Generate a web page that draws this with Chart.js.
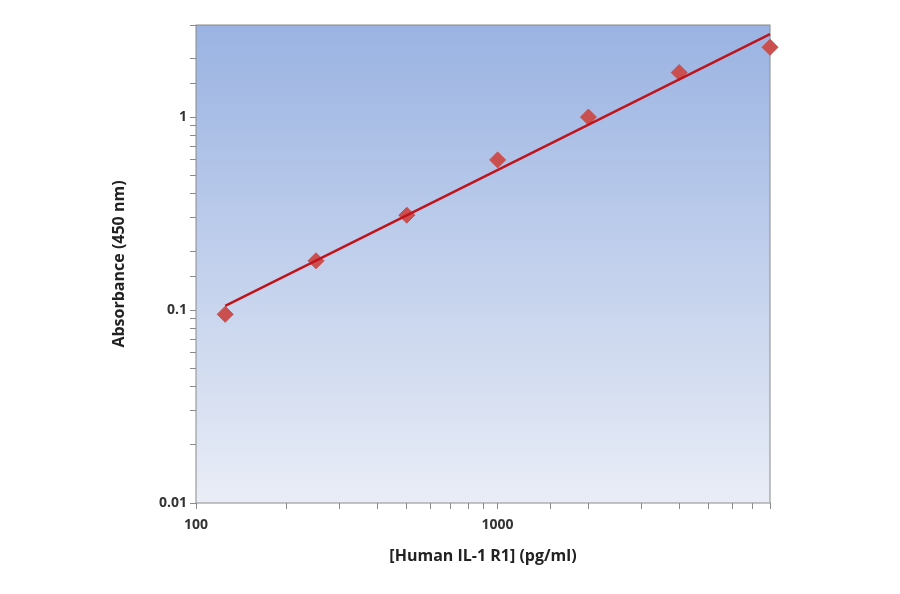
<!DOCTYPE html>
<html>
<head>
<meta charset="utf-8">
<script src="https://cdn.jsdelivr.net/npm/chart.js@4"></script>
<style>
  body { margin: 0; background: #fff; }
  #wrap { width: 900px; height: 594px; }
</style>
</head>
<body>
<div id="wrap"><canvas id="chart"></canvas></div>
<script>
// standards (pg/ml) and measured absorbance
const concentrations = [125, 250, 500, 1000, 2000, 4000, 8000];
const absorbance = [0.095, 0.18, 0.31, 0.6, 1.0, 1.7, 2.3];

// fitted curve end points
const fitX = [125, 8000];
const fitY = [0.105, 2.69];

const xLabels = [100, 1000];
const yLabels = [0.01, 0.1, 1];

const bgPlugin = {
    id: "bgPlugin",
    beforeDraw: (chart) => {
        const { ctx, chartArea: { left, right, top, bottom } } = chart;
        const g = ctx.createLinearGradient(0, top, 0, bottom);
        g.addColorStop(0, "#9ab3e2");
        g.addColorStop(1, "#e9edf6");
        ctx.save();
        ctx.fillStyle = g;
        ctx.fillRect(left, top, right - left, bottom - top);
        ctx.strokeStyle = "#8a8a8a";
        ctx.lineWidth = 1;
        ctx.strokeRect(left, top, right - left, bottom - top);
        ctx.restore();
    }
};

new Chart(document.getElementById("chart").getContext("2d"), {
    type: "scatter",
    data: {
        datasets: [
            {
                label: "Fit",
                data: fitX.map((x, i) => ({ x, y: fitY[i] })),
                showLine: true, borderColor: "#c0141c", borderWidth: 2.5, pointRadius: 0, clip: false
            },
            {
                label: "Standards",
                data: concentrations.map((x, i) => ({ x, y: absorbance[i] })),
                pointStyle: "rectRot", pointRadius: 8, pointHoverRadius: 8, clip: false,
                backgroundColor: "#c9504e", borderColor: "#c9504e"
            }
        ]
    },
    plugins: [bgPlugin],
    options: {
        animation: false,
        responsive: true,
        maintainAspectRatio: false,
        layout: { padding: { top: 25, right: 130, left: 106, bottom: 24 } },
        plugins: { legend: { display: false }, tooltip: { enabled: false } },
        scales: {
            x: {
                type: "logarithmic", min: 100, max: 8000,
                afterFit: (s) => { s.height = 67; },
                border: { display: false },
                grid: { drawOnChartArea: false, tickLength: 6, color: "#8a8a8a" },
                ticks: {
                    autoSkip: false, maxRotation: 0, color: "#333", padding: 8,
                    font: { family: "Open Sans", size: 14, weight: "bold" },
                    callback: (v) => xLabels.includes(v) ? String(v) : ""
                },
                title: { display: true, text: "[Human IL-1 R1] (pg/ml)", color: "#222",
                         font: { family: "Open Sans", size: 16, weight: "bold" }, padding: { top: 14 } }
            },
            y: {
                type: "logarithmic", min: 0.01, max: 3,
                afterFit: (s) => { s.width = 90; },
                border: { display: false },
                grid: { drawOnChartArea: false, tickLength: 6, color: "#8a8a8a" },
                ticks: {
                    autoSkip: false, color: "#333",
                    font: { family: "Open Sans", size: 14, weight: "bold" },
                    callback: (v) => yLabels.some(l => Math.abs(l - v) < 1e-9) ? String(v) : ""
                },
                title: { display: true, text: "Absorbance (450 nm)", color: "#222",
                         font: { family: "Open Sans", size: 16, weight: "bold" }, padding: { bottom: 0 } }
            }
        }
    }
});
</script>
</body>
</html>
